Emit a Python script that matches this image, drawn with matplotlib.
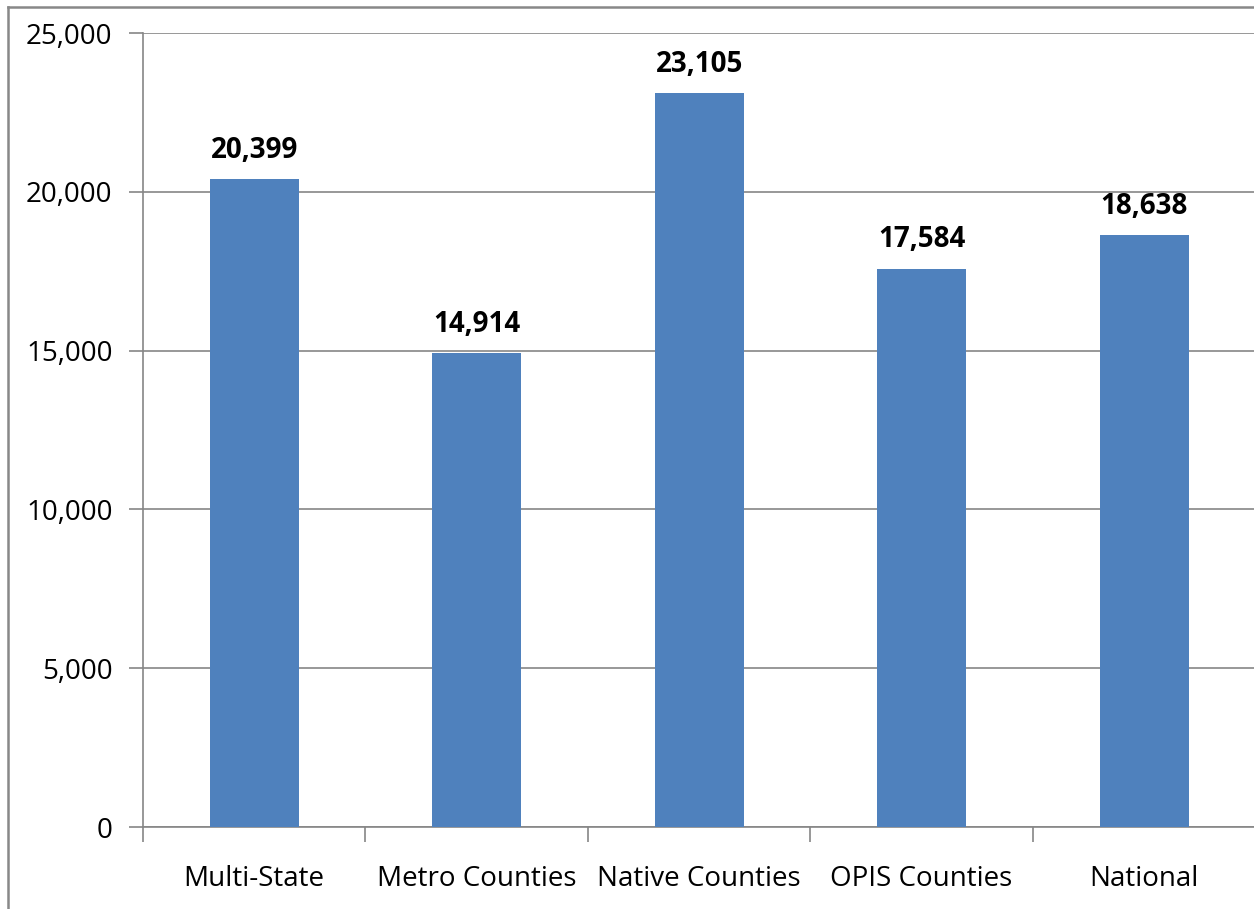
import matplotlib
matplotlib.use("Agg")
import matplotlib.pyplot as plt
from matplotlib.lines import Line2D
from matplotlib.ticker import FuncFormatter

# values
categories = ["Multi-State", "Metro Counties", "Native Counties", "OPIS Counties", "National"]
values = [20399, 14914, 23105, 17584, 18638]
yticks = [0, 5000, 10000, 15000, 20000, 25000]

plt.rcParams['font.family'] = ['Open Sans', 'DejaVu Sans']

fig = plt.figure(figsize=(12.54, 9.09), dpi=100)
ax = fig.add_axes([143 / 1254, 82 / 909, 1 - 143 / 1254 + 0.001, 794 / 909])

x = range(len(categories))
ax.bar(x, values, width=0.4, color="#4F81BD", zorder=3)

for i, v in zip(x, values):
    ax.text(i, v + 450, f"{v:,}", ha="center", va="bottom",
            fontsize=20, fontweight="bold", color="black")

ax.set_xlim(-0.5, len(categories) - 0.5)
ax.set_ylim(0, 25000)
ax.set_yticks(yticks)
ax.yaxis.set_major_formatter(FuncFormatter(lambda v, p: f"{int(v):,}"))
ax.yaxis.grid(True, color="#868686", linewidth=1.2, zorder=0)

# category ticks sit between the bars
ax.set_xticks([i - 0.5 for i in x])
ax.set_xticklabels([])
ax.set_xticks(list(x), minor=True)
ax.set_xticklabels(categories, minor=True)
ax.tick_params(axis="x", which="minor", length=0, pad=27, labelsize=20)
ax.tick_params(axis="x", which="major", length=11, width=1.2, color="#868686")
ax.tick_params(axis="y", length=10, width=1.2, color="#868686", pad=12, labelsize=20)

for side in ["top", "right"]:
    ax.spines[side].set_visible(False)
for side in ["left", "bottom"]:
    ax.spines[side].set_color("#868686")
    ax.spines[side].set_linewidth(1.2)

# outer chart border (cropped on right and bottom)
fig.add_artist(Line2D([7.5 / 1254, 1], [1 - 6.5 / 909, 1 - 6.5 / 909],
                      transform=fig.transFigure, color="#888888", linewidth=1.8))
fig.add_artist(Line2D([7.5 / 1254, 7.5 / 1254], [0, 1 - 6.5 / 909],
                      transform=fig.transFigure, color="#888888", linewidth=1.8))

fig.savefig("out.png", dpi=100, facecolor="white")
